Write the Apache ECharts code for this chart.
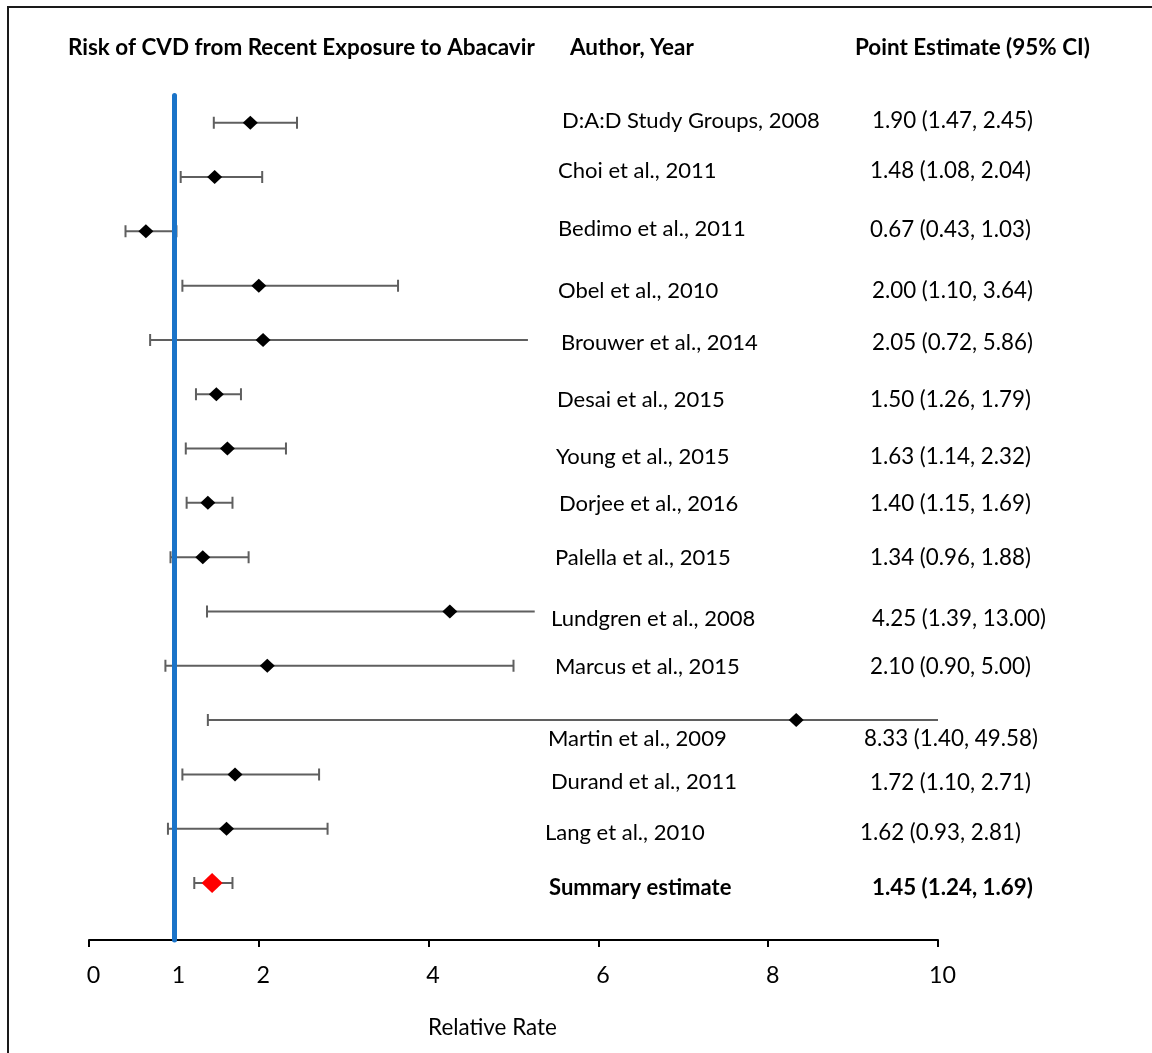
<!DOCTYPE html>
<html><head><meta charset="utf-8">
<script src="https://cdn.jsdelivr.net/npm/echarts@6/dist/echarts.min.js"></script>
<style>html,body{margin:0;padding:0;background:#fff}#c{width:1152px;height:1053px}</style>
</head><body><div id="c"></div>
<script>
// ---- data ----
const authors = ['D:A:D Study Groups, 2008','Choi et al., 2011','Bedimo et al., 2011','Obel et al., 2010','Brouwer et al., 2014','Desai et al., 2015','Young et al., 2015','Dorjee et al., 2016','Palella et al., 2015','Lundgren et al., 2008','Marcus et al., 2015','Martin et al., 2009','Durand et al., 2011','Lang et al., 2010','Summary estimate'];
const pointEst = [1.90,1.48,0.67,2.00,2.05,1.50,1.63,1.40,1.34,4.25,2.10,8.33,1.72,1.62,1.45];
const ciLow    = [1.47,1.08,0.43,1.10,0.72,1.26,1.14,1.15,0.96,1.39,0.90,1.40,1.10,0.93,1.24];
const ciHigh   = [2.45,2.04,1.03,3.64,5.86,1.79,2.32,1.69,1.88,13.00,5.00,49.58,2.71,2.81,1.69];
// upper end of the bar as drawn in the figure (some bars are truncated, no cap)
const barHigh  = [2.45,2.04,1.03,3.64,5.17,1.79,2.32,1.69,1.88,5.25,5.00,49.58,2.71,2.81,1.69];
const capRight = [true,true,true,true,false,true,true,true,true,false,true,false,true,true,true];
const xTickValues  = [0,2,4,6,8,10];
const xLabelValues = [0,1,2,4,6,8,10];
const refLine = 1;
const titles = ['Risk of CVD from Recent Exposure to Abacavir','Author, Year','Point Estimate (95% CI)'];
const axisTitle = 'Relative Rate';

// ---- layout (pixels) ----
const authorX = [562,558,558,558,561,557,556,559,555,551,555,548,551,545,549];
const estX    = [872,870,870,872,872,870,870,870,870,872,870,864,870,860,872];
const labelDy = [-2,-6,-2,5,3,6,8,1,1,7,1,19,8,4,5];

const FAMILY = 'Lato';
const cv = document.createElement('canvas').getContext('2d');
function fit(text, weight, target){ cv.font = weight+' 20px '+FAMILY; return 20*target/cv.measureText(text).width; }
const headSize = fit(titles[0],'bold',467);
const authSize = fit(authors[0],'normal',258);
const estSize  = fit('1.90 (1.47, 2.45)','normal',161);
const axisNameSize = fit(axisTitle,'normal',129);
const tickSize = fit('10','normal',27);

const estText = pointEst.map((p,i)=>p.toFixed(2)+' ('+ciLow[i].toFixed(2)+', '+ciHigh[i].toFixed(2)+')');
const last = authors.length-1;

const chart = echarts.init(document.getElementById('c'));
chart.setOption({
  animation:false,
  backgroundColor:'#fff',
  grid:{left:89,right:214,top:95.6,bottom:113,containLabel:false},
  xAxis:{type:'value',min:0,max:10,position:'bottom',
    axisLine:{show:true,onZero:false,lineStyle:{color:'#000',width:2}},
    axisTick:{show:true,customValues:xTickValues,length:7,inside:false,lineStyle:{color:'#000',width:2}},
    axisLabel:{customValues:xLabelValues,color:'#000',fontFamily:FAMILY,fontSize:tickSize,margin:24,padding:[0,0,0,9]},
    splitLine:{show:false},
    name:axisTitle,nameLocation:'middle',nameGap:77,
    nameTextStyle:{color:'#000',fontFamily:FAMILY,fontSize:axisNameSize,padding:[0,42,0,0]}
  },
  yAxis:{type:'value',min:-0.5,max:15.05,inverse:true,show:false},
  graphic:[
    {type:'polyline',shape:{points:[[8,1053],[8,7],[1152,7]]},style:{stroke:'#1a1a1a',lineWidth:2,fill:null}},
    {type:'text',left:68,top:50-headSize*0.6,style:{text:titles[0],font:'bold '+headSize+'px '+FAMILY,fill:'#000'}},
    {type:'text',left:570,top:50-headSize*0.6,style:{text:titles[1],font:'bold '+headSize+'px '+FAMILY,fill:'#000'}},
    {type:'text',left:855,top:50-headSize*0.6,style:{text:titles[2],font:'bold '+headSize+'px '+FAMILY,fill:'#000'}}
  ],
  series:[
    {type:'custom',name:'ci',clip:true,z:2,
      data:authors.map((a,i)=>[i,ciLow[i],barHigh[i],capRight[i]?1:0]),
      renderItem:function(params,api){
        const r=api.value(0), lo=api.coord([api.value(1),r]), hi=api.coord([api.value(2),r]);
        const h=6, st={stroke:'#5f5f5f',lineWidth:2};
        const ch=[{type:'line',shape:{x1:lo[0],y1:lo[1],x2:hi[0],y2:hi[1]},style:st},
                  {type:'line',shape:{x1:lo[0],y1:lo[1]-h,x2:lo[0],y2:lo[1]+h},style:st}];
        if(api.value(3)) ch.push({type:'line',shape:{x1:hi[0],y1:hi[1]-h,x2:hi[0],y2:hi[1]+h},style:st});
        return {type:'group',children:ch};
      }
    },
    {type:'scatter',name:'est',symbol:'diamond',z:4,
      data:pointEst.map((p,i)=>({value:[p,i],symbolSize:i===last?[21,20]:[15,14],itemStyle:{color:i===last?'#ff0000':'#000',opacity:1}})),
      markLine:{silent:true,symbol:['none','none'],label:{show:false},
        lineStyle:{color:'#1a73c8',width:5,type:'solid',cap:'round',opacity:1},data:[{xAxis:refLine}]}
    },
    {type:'custom',name:'labels',clip:false,z:5,
      data:authors.map((a,i)=>[i]),
      renderItem:function(params,api){
        const i=params.dataIndex, y=api.coord([0,api.value(0)])[1]+labelDy[i];
        const bold=i===last?'bold ':'';
        return {type:'group',children:[
          {type:'text',style:{text:authors[i],x:authorX[i],y:y,font:bold+authSize+'px '+FAMILY,fill:'#000',textVerticalAlign:'middle',verticalAlign:'middle'}},
          {type:'text',style:{text:estText[i],x:estX[i],y:y,font:bold+estSize+'px '+FAMILY,fill:'#000',textVerticalAlign:'middle',verticalAlign:'middle'}}
        ]};
      }
    }
  ]
});
</script></body></html>
